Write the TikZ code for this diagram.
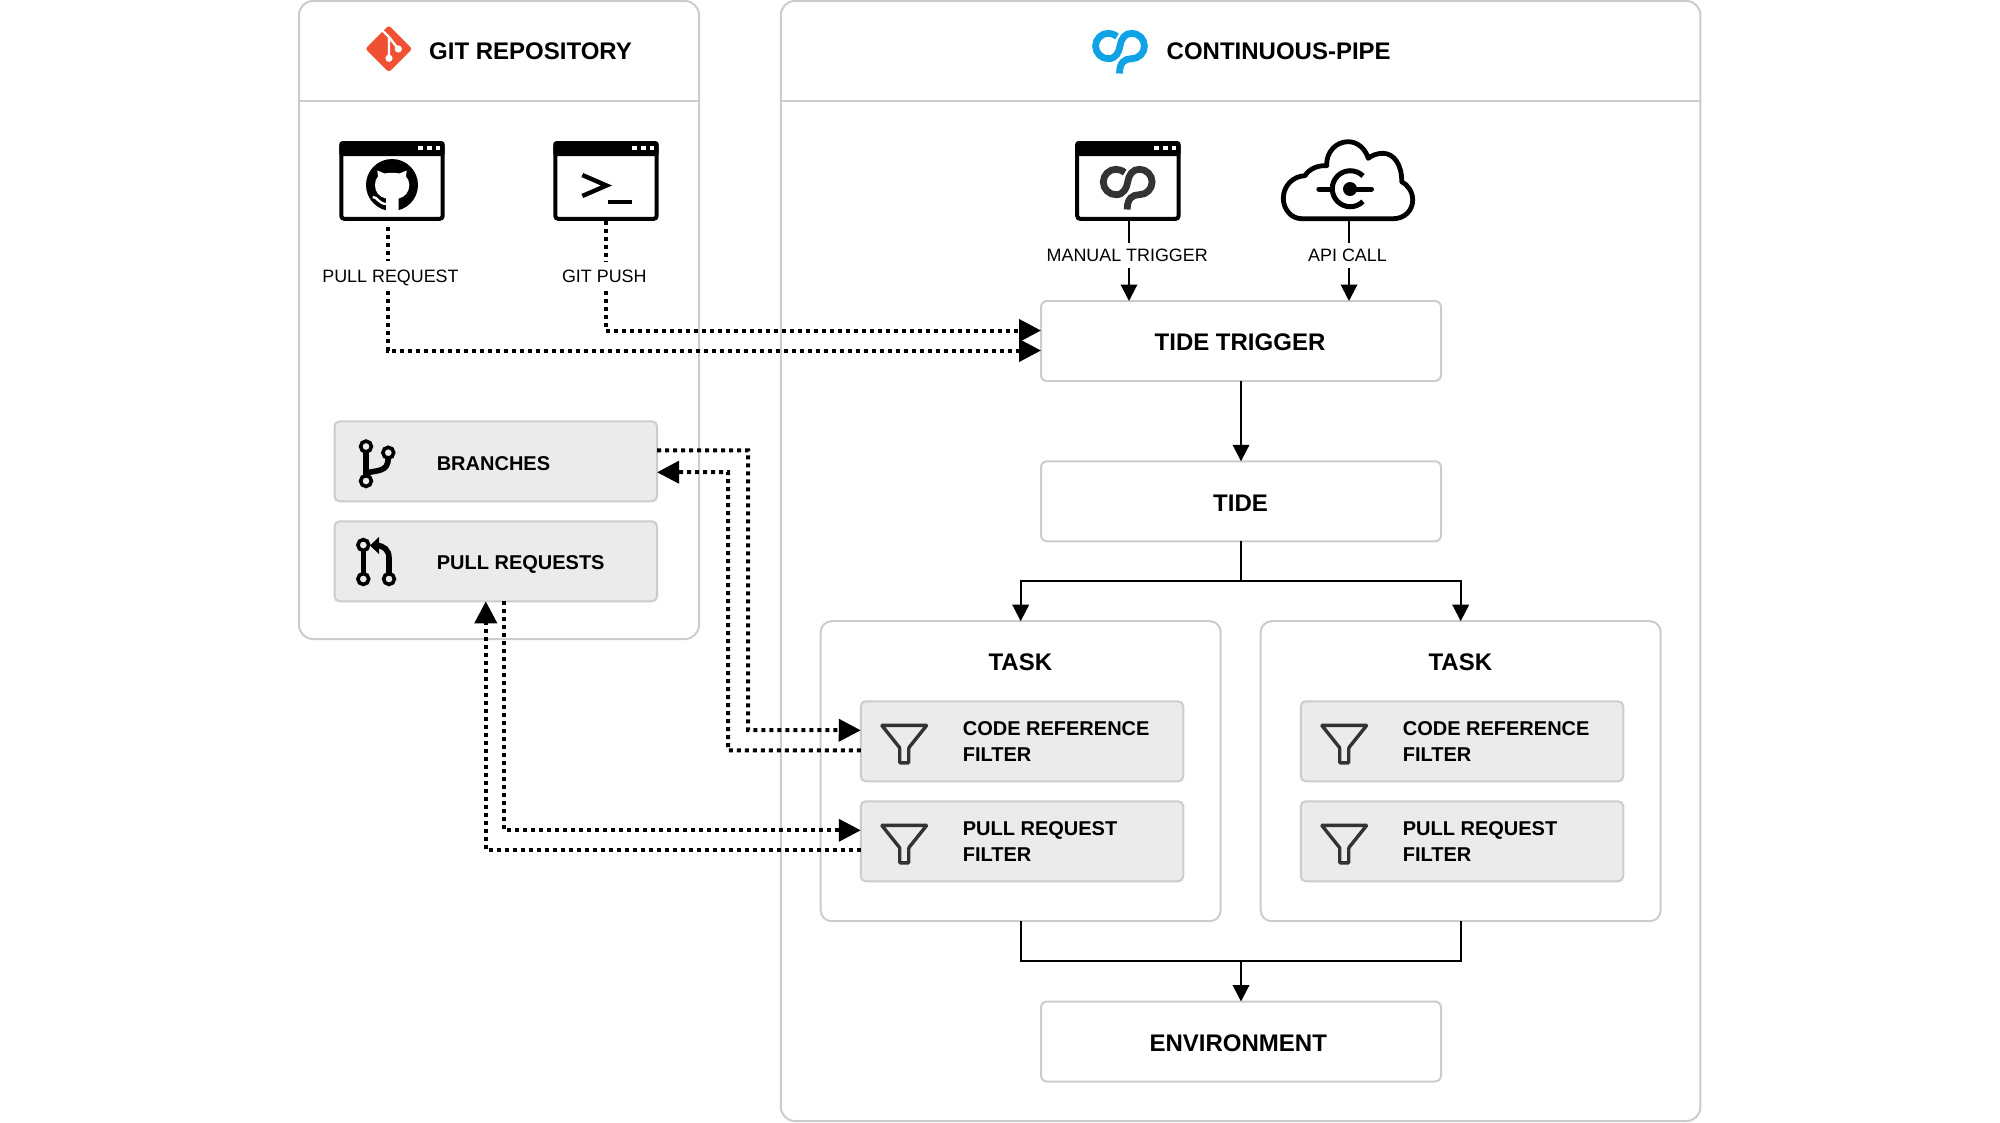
\documentclass[tikz,border=0pt]{standalone}
\usepackage{fontspec}
\setmainfont{Liberation Sans}
\usetikzlibrary{arrows.meta}
\definecolor{edgegray}{HTML}{CCCCCC}
\definecolor{panelgray}{HTML}{EBEBEB}
\definecolor{gitred}{HTML}{F05133}
\definecolor{cpblue}{HTML}{0FA3E6}
\definecolor{icongray}{HTML}{333333}
\tikzset{
  x=1pt,y=-1pt,
  panel/.style={draw=edgegray,line width=2,fill=white,rounded corners=#1,inner sep=0,outer sep=0},
  panel/.default=6,
  plainbox/.style={panel=6,minimum width=400,minimum height=80},
  boxtitle/.style={font=\fontsize{24}{28}\selectfont\bfseries,inner sep=0,text height=17.5,text depth=0},
  taskbox/.style={panel=11,minimum width=400,minimum height=300},
  graybox/.style={draw=edgegray,line width=2,fill=panelgray,rounded corners=5,inner sep=0,outer sep=0,minimum width=322.5,minimum height=80},
  heading/.style={font=\fontsize{24}{28}\selectfont\bfseries,inner sep=0,text height=17.5,text depth=0},
  boxlabel/.style={font=\fontsize{20}{26}\selectfont\bfseries,inner sep=0,align=left,anchor=west},
  edgelabel/.style={font=\fontsize{17.9}{22}\selectfont,fill=white,inner xsep=0,inner ysep=0,text height=13,text depth=0,anchor=center},
  window/.style={draw=black,line width=4,fill=white,rounded corners=3,inner sep=0,minimum width=101.4,minimum height=75.7,outer sep=2},
  flow/.style={draw=black,line width=2,-{Triangle[length=16.5,width=16.5]}},
  plainline/.style={draw=black,line width=2},
  dots/.style={draw=black,line width=4,dash pattern=on 4 off 4},
  dotarrow/.style={dots,-{Triangle[length=22,width=22]}},
  winbar/.pic={
    \fill[black,rounded corners=3] (0,0) rectangle (105.4,15);
    \foreach \sx in {81.4,90,98.7}{\fill[white] (\sx-2.3,4.5) rectangle (\sx+2.3,9);}
  },
  cplogo/.pic={
    \draw[line width=6.8,pic actions]
      (-3,-9.5) .. controls (-6,-11.7) and (-9,-12.7) .. (-11.7,-12.7)
      .. controls (-18.7,-12.7) and (-24.4,-7) .. (-24.4,0)
      .. controls (-24.4,7) and (-18.7,12.7) .. (-11.7,12.7)
      .. controls (-4,12.7) and (-1,6) .. (0,0)
      .. controls (1,-7) and (4.7,-12.7) .. (11.7,-12.7)
      .. controls (18.7,-12.7) and (24.4,-7) .. (24.4,0)
      .. controls (24.4,7) and (18.7,12.7) .. (11.7,12.7)
      .. controls (5,12.7) and (-0.5,16) .. (-0.5,27.5);
  },
  funnel/.pic={
    \draw[icongray,line width=3.4,line join=miter,rounded corners=0.8]
      (21,24) -- (66,24) -- (48,46.5) -- (48,61.5) -- (39,61.5) -- (39,46.5) -- cycle;
  },
}
\begin{document}
\begin{tikzpicture}
\useasboundingbox (0,0) rectangle (2000,1122);
\fill[white] (0,0) rectangle (2000,1122);

% outer panels
\node[panel=14,minimum width=400,minimum height=638] (gitpanel) at (499,320) {};
\node[panel=14,minimum width=919.5,minimum height=1120] (cppanel) at (1240.6,561) {};
\draw[edgegray,line width=2] (gitpanel.west |- 0,100.7) -- (gitpanel.east |- 0,100.7);
\draw[edgegray,line width=2] (cppanel.west |- 0,100.7) -- (cppanel.east |- 0,100.7);

% headers
\node[heading,anchor=west] (githead) at (429,51.2) {GIT REPOSITORY};
\node[heading,anchor=west] (cphead) at (1166.5,51.2) {CONTINUOUS-PIPE};

% git logo
\fill[gitred,rounded corners=2.5] (365.4,48.8) -- (388.8,25.4) -- (412.2,48.8) -- (388.8,72.2) -- cycle;
\draw[white,line width=2.4] (380,28) -- (389,37) -- (389,58.3) (389,37) -- (398.3,49);
\fill[white] (389,58.3) circle[radius=3.6] (398.3,49) circle[radius=3.6] (389,38) circle[radius=1.6];

% cp logo
\pic[cpblue] at (1120,46) {cplogo};

% windows
\node[window] (winpr) at (392,181) {};
\node[window] (winpush) at (606,181) {};
\node[window] (winman) at (1127.9,181) {};
\foreach \w in {winpr,winpush,winman}{\pic at (\w.north west) {winbar};}

% github mark
\fill[black] (392,185) circle[radius=26];
\fill[white] (386,213) -- (386,198.5)
  .. controls (379,197) and (375,192) .. (375,185)
  .. controls (375,181.5) and (376,178.5) .. (378,176.5)
  -- (377.3,170.5) -- (384.5,173.5) .. controls (389,172.5) and (395,172.5) .. (399.5,173.5)
  -- (406.7,170.5) -- (406,176.5)
  .. controls (408,178.5) and (409.3,181.5) .. (409.3,185)
  .. controls (409.3,192) and (405,197) .. (398.7,198.5)
  -- (398.7,213) -- cycle;
\draw[white,line width=2.4] (372.8,197) .. controls (378,197) and (378,204) .. (387,204);

% terminal prompt
\draw[black,line width=4.4,line join=miter] (582.3,175) -- (606.5,185.5) -- (582.3,196);
\draw[black,line width=3.4] (608.3,202) -- (631.7,202);

% grey cp logo
\pic[icongray] at (1127.7,182) {cplogo};

% cloud
\node[inner sep=0,minimum width=130,minimum height=78] (cloud) at (1348,180) {};
\draw[black,line width=4.8,line join=round,fill=white]
  (1301.7,218.7) .. controls (1291,218.7) and (1283.3,209) .. (1283.3,198.3)
  .. controls (1283.3,186) and (1293,176) .. (1305,175.7)
  .. controls (1309,169) and (1318,165) .. (1326.7,165.7)
  .. controls (1326,152) and (1336,141.7) .. (1348.3,141.7)
  .. controls (1357,141.7) and (1365,148) .. (1368.3,158.3)
  .. controls (1372,155) and (1378,153.3) .. (1383,153.3)
  .. controls (1394,153.3) and (1402,165) .. (1401.7,181.7)
  .. controls (1408,185) and (1412.7,192) .. (1412.7,200)
  .. controls (1412.7,211) and (1404,218.7) .. (1393.3,218.7) -- cycle;
\draw[black,line width=5] (1363,176) arc[start angle=-45,delta angle=-270,radius=18];
\draw[black,line width=5,line cap=round] (1318.8,189) -- (1332,189) (1350,189) -- (1371.5,189);
\fill[black] (1350,189) circle[radius=7];

% main boxes
\node[plainbox] (tide) at (1241,341) {};
\node[plainbox] (tide2) at (1241,501.3) {};
\node[plainbox] (env) at (1241,1041.5) {};
\node[boxtitle] (tidelabel) at (1240,342.2) {TIDE TRIGGER};
\node[boxtitle] (tide2label) at (1240.5,502.5) {TIDE};
\node[boxtitle] (envlabel) at (1238.3,1043) {ENVIRONMENT};

% tasks and filters
\foreach \t/\dx in {a/0,b/440}{
  \node[taskbox] (task\t) at (1020.7+\dx,771.2) {};
  \node[heading] (tasklabel\t) at (1020.3+\dx,661.7) {TASK};
  \node[graybox] (code\t) at (1022+\dx,741.3) {};
  \node[graybox] (prf\t) at (1022+\dx,841.3) {};
  \pic at (code\t.north west) {funnel};
  \pic at (prf\t.north west) {funnel};
  \node[boxlabel] (codelabel\t) at (962.6+\dx,741.3) {CODE REFERENCE\\FILTER};
  \node[boxlabel] (prflabel\t) at (962.6+\dx,841.3) {PULL REQUEST\\FILTER};
}

% repository boxes
\node[graybox] (branches) at (495.8,461.3) {};
\node[graybox] (pulls) at (495.8,561.3) {};
\node[boxlabel] (brlabel) at (436.6,463.6) {BRANCHES};
\node[boxlabel] (pulllabel) at (436.6,564.6) {PULL REQUESTS};

% branch icon
\draw[black,line width=6] (366,451) -- (366,476);
\draw[black,line width=5.6] (366,473) .. controls (378,470) and (388,472) .. (388.3,458);
\draw[black,line width=3.6,fill=panelgray] (366,446.5) circle[radius=5.4] (388.3,452.7) circle[radius=5.4] (366,481) circle[radius=5.4];

% pull request icon
\draw[black,line width=5.6] (363.3,550) -- (363.3,574);
\draw[black,line width=5.6] (389,574) -- (389,558) .. controls (389,550) and (384,545.5) .. (376,545.5);
\fill[black] (370,545.5) -- (379,537) -- (379,554) -- cycle;
\draw[black,line width=3.6,fill=panelgray] (363.3,545) circle[radius=5.4] (363.3,579) circle[radius=5.4] (389,579) circle[radius=5.4];

% edge labels
\node[edgelabel,minimum height=29] (lblpr) at (390.5,276) {PULL REQUEST};
\node[edgelabel,minimum height=29] (lblpush) at (604.3,276) {GIT PUSH};
\node[edgelabel,minimum height=25] (lblman) at (1127.2,255.2) {MANUAL TRIGGER};
\node[edgelabel,minimum height=25] (lblapi) at (1347.5,255.2) {API CALL};

% dotted connectors
\draw[dots] ([xshift=-4]winpr.south) ++(0,6) -- ([xshift=-2.5]lblpr.north);
\draw[dotarrow] ([xshift=-2.5]lblpr.south) |- ([yshift=-9.5]tide.west);
\draw[dots] (winpush.south) -- ([xshift=1.7]lblpush.north);
\draw[dotarrow] ([xshift=1.7]lblpush.south) |- ([yshift=10.5]tide.west);

\draw[dotarrow] ([yshift=11]branches.east) -| (748,730) -- ([yshift=11]codea.west);
\draw[dotarrow] ([yshift=-9]codea.west) -| (728,472) -- ([yshift=-11]branches.east);
\draw[dotarrow] ([xshift=8]pulls.south) |- ([yshift=11]prfa.west);
\draw[dotarrow] ([yshift=-9]prfa.west) -| ([xshift=-10]pulls.south);

% solid connectors
\draw[plainline] (winman.south -| 1129,0) -- (lblman.north -| 1129,0);
\draw[flow] (lblman.south -| 1129,0) -- (tide.north -| 1129,0);
\draw[plainline] (cloud.south -| 1349,0) -- (lblapi.north -| 1349,0);
\draw[flow] (lblapi.south -| 1349,0) -- (tide.north -| 1349,0);
\draw[flow] (tide.south) -- (tide2.north);
\draw[flow] (tide2.south) -- ++(0,40) -| (taska.north);
\draw[flow] (tide2.south) -- ++(0,40) -| (taskb.north);
\draw[plainline] (taska.south) -- ++(0,40) -| (taskb.south);
\draw[flow] (env.north |- taska.south) ++(0,40) -- (env.north);
\end{tikzpicture}
\end{document}
